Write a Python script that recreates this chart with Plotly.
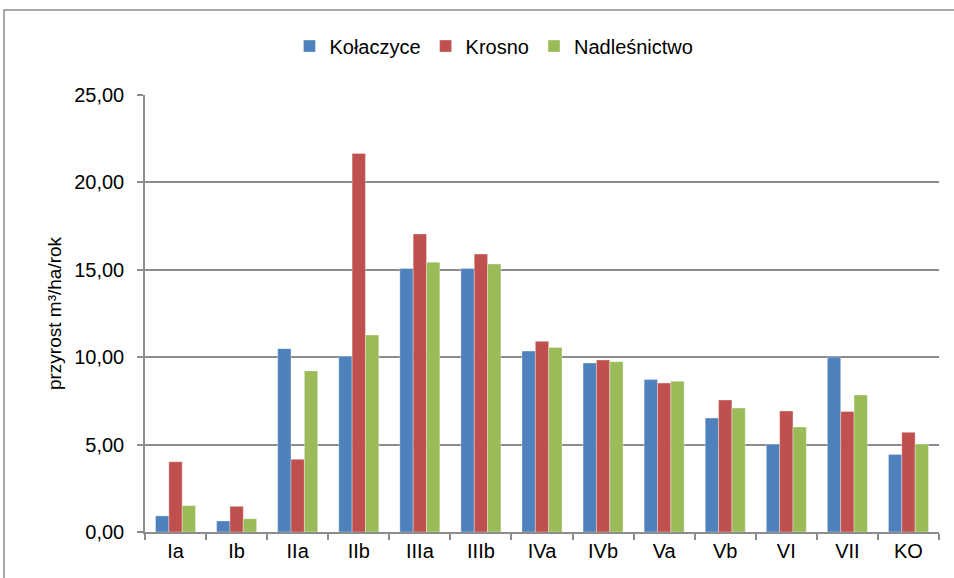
import plotly.graph_objects as go

categories = ["Ia", "Ib", "IIa", "IIb", "IIIa", "IIIb", "IVa", "IVb", "Va", "Vb", "VI", "VII", "KO"]
kolaczyce = [0.92, 0.63, 10.49, 10.05, 15.08, 15.08, 10.35, 9.67, 8.73, 6.52, 5.02, 10.01, 4.44]
krosno = [4.02, 1.47, 4.16, 21.66, 17.05, 15.90, 10.91, 9.84, 8.52, 7.55, 6.92, 6.90, 5.70]
nadlesnictwo = [1.51, 0.76, 9.21, 11.27, 15.43, 15.33, 10.56, 9.74, 8.62, 7.09, 6.01, 7.84, 5.03]

series_names = ["Kołaczyce", "Krosno", "Nadleśnictwo"]
series_colors = ["#4F81BD", "#C0504D", "#9BBB59"]

y_tickvals = [0, 5, 10, 15, 20, 25]
y_ticktext = ["0,00", "5,00", "10,00", "15,00", "20,00", "25,00"]

FONT = "Liberation Sans, Arial, sans-serif"
GRID = "#8C8C8C"

fig = go.Figure()
for name, vals, col in zip(series_names, [kolaczyce, krosno, nadlesnictwo], series_colors):
    fig.add_trace(go.Bar(
        x=categories, y=vals, name=name,
        marker=dict(color=col, line=dict(color="rgba(255,255,255,0.55)", width=0.6)),
    ))

fig.update_layout(
    width=954, height=578,
    margin=dict(l=145, r=15, t=95, b=46),
    paper_bgcolor="white", plot_bgcolor="white",
    barmode="group", bargap=0.345, bargroupgap=0,
    font=dict(family=FONT, size=20, color="#000000"),
    showlegend=True,
    legend=dict(orientation="h", x=0.4395, xanchor="center", y=1.112, yanchor="middle",
                font=dict(size=20), itemwidth=30, bgcolor="rgba(0,0,0,0)"),
    xaxis=dict(
        type="category", showgrid=False, showline=True, linecolor=GRID, linewidth=1.5,
        ticks="outside", tickson="boundaries", ticklen=6, tickcolor=GRID, tickwidth=1.5,
        tickfont=dict(size=20), fixedrange=True,
    ),
    yaxis=dict(
        range=[0, 25], tickvals=y_tickvals, ticktext=y_ticktext,
        showgrid=True, gridcolor=GRID, gridwidth=1.5,
        showline=True, linecolor=GRID, linewidth=1.5,
        ticks="outside", ticklen=6, tickcolor=GRID, tickwidth=1.5,
        ticklabelstandoff=9, zeroline=False,
        tickfont=dict(size=20),
        title=dict(text="przyrost m³/ha/rok", font=dict(size=19), standoff=8),
    ),
    shapes=[dict(type="rect", xref="paper", yref="paper",
                 x0=-0.1776, x1=1.2, y0=-0.3, y1=1.1945,
                 line=dict(color="#8C8C8C", width=1.5), fillcolor="rgba(0,0,0,0)", layer="below")],
)

fig.write_html("out.html", config={"displayModeBar": False},
               post_script="document.body.style.margin='0';document.body.style.overflow='hidden';")
